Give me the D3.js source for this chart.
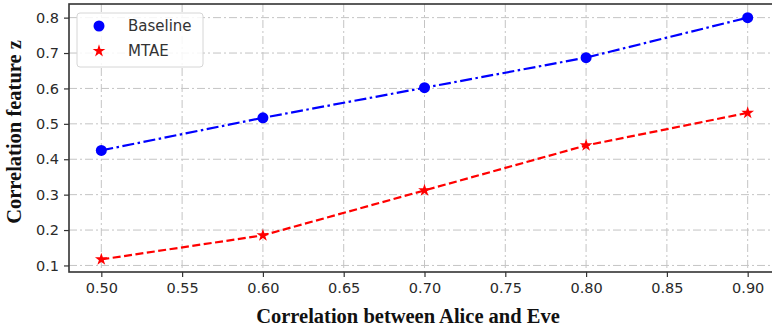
<!DOCTYPE html>
<head>
  <meta charset="utf-8">
  <script src="https://d3js.org/d3.v7.min.js"></script>
  <style>
    body { margin:0; background:#fff; }
    .tick text { font-family: 'DejaVu Sans', sans-serif; font-size: 14.5px; fill: #2a2a2a; }
    .axis-label { font-family: 'Liberation Serif', 'Times New Roman', serif; font-weight: 700; font-size: 20.5px; fill: #111; }
    .grid-line { stroke: #c4c4c4; stroke-width: 1; stroke-dasharray: 8,3,2,3; }
    .legend text { font-family: 'DejaVu Sans', sans-serif; font-size: 15px; fill: #333; }
  </style>
</head>
<body>
<script>
  // data
  var xValues = [0.50, 0.60, 0.70, 0.80, 0.90];
  var baseline = [0.425, 0.517, 0.602, 0.687, 0.800];
  var mtae = [0.117, 0.185, 0.312, 0.439, 0.531];
  var xTicks = [0.50, 0.55, 0.60, 0.65, 0.70, 0.75, 0.80, 0.85, 0.90];
  var yTicks = [0.1, 0.2, 0.3, 0.4, 0.5, 0.6, 0.7, 0.8];
  var seriesNames = ["Baseline", "MTAE"];

  var W = 772, H = 331;
  var plot = {left: 69, top: 4, right: 780, bottom: 272};

  var svg = d3.select("body").append("svg")
      .attr("width", W)
      .attr("height", H);

  var x = d3.scaleLinear().domain([0.48, 0.92]).range([plot.left, plot.right]);
  var y = d3.scaleLinear().domain([0.0815, 0.8385]).range([plot.bottom, plot.top]);

  // grid
  var grid = svg.append("g");
  grid.selectAll(".gx").data(xTicks).enter().append("line")
    .attr("class", "grid-line")
    .attr("x1", d => x(d)).attr("x2", d => x(d))
    .attr("y1", plot.top).attr("y2", plot.bottom);
  grid.selectAll(".gy").data(yTicks).enter().append("line")
    .attr("class", "grid-line")
    .attr("x1", plot.left).attr("x2", plot.right)
    .attr("y1", d => y(d)).attr("y2", d => y(d));

  // axes
  var xAxis = d3.axisBottom(x).tickValues(xTicks).tickFormat(d3.format(".2f")).tickSize(5).tickPadding(6);
  var yAxis = d3.axisLeft(y).tickValues(yTicks).tickFormat(d3.format(".1f")).tickSize(5).tickPadding(5);

  var gx = svg.append("g").attr("transform", "translate(0," + plot.bottom + ")").call(xAxis);
  var gy = svg.append("g").attr("transform", "translate(" + plot.left + ",0)").call(yAxis);
  [gx, gy].forEach(g => {
    g.select(".domain").remove();
    g.selectAll(".tick line").attr("stroke", "#333").attr("stroke-width", 1.2);
  });

  // frame
  svg.append("rect")
    .attr("x", plot.left).attr("y", plot.top)
    .attr("width", plot.right - plot.left).attr("height", plot.bottom - plot.top)
    .attr("fill", "none").attr("stroke", "#333").attr("stroke-width", 1.6);

  var line = d3.line().x((d, i) => x(xValues[i])).y(d => y(d));

  // Baseline
  svg.append("path").datum(baseline)
    .attr("d", line).attr("fill", "none")
    .attr("stroke", "#0000ff").attr("stroke-width", 2.2)
    .attr("stroke-dasharray", "12,3.5,2.5,3.5");
  svg.append("g").selectAll("circle").data(baseline).enter().append("circle")
    .attr("cx", (d, i) => x(xValues[i])).attr("cy", d => y(d))
    .attr("r", 5.5).attr("fill", "#0000ff");

  // MTAE
  svg.append("path").datum(mtae)
    .attr("d", line).attr("fill", "none")
    .attr("stroke", "#ff0000").attr("stroke-width", 2.2)
    .attr("stroke-dasharray", "8,3.5");
  var star = d3.symbol().type(d3.symbolStar).size(50);
  svg.append("g").selectAll("path").data(mtae).enter().append("path")
    .attr("d", star)
    .attr("transform", (d, i) => "translate(" + x(xValues[i]) + "," + y(d) + ")")
    .attr("fill", "#ff0000");

  // legend
  var legend = svg.append("g").attr("class", "legend");
  legend.append("rect")
    .attr("x", 77).attr("y", 13).attr("width", 126).attr("height", 54)
    .attr("rx", 3).attr("fill", "#fff").attr("fill-opacity", 0.85)
    .attr("stroke", "#d6d6d6").attr("stroke-width", 1);
  legend.append("circle").attr("cx", 99).attr("cy", 26).attr("r", 5.5).attr("fill", "#0000ff");
  legend.append("path").attr("d", star).attr("transform", "translate(99,51)").attr("fill", "#ff0000");
  legend.selectAll("text").data(seriesNames).enter().append("text")
    .attr("x", 128).attr("y", (d, i) => 31 + i * 25)
    .text(d => d);

  // axis labels
  svg.append("text").attr("class", "axis-label")
    .attr("text-anchor", "middle")
    .attr("x", 408).attr("y", 323)
    .text("Correlation between Alice and Eve");
  svg.append("text").attr("class", "axis-label")
    .attr("text-anchor", "middle")
    .attr("transform", "translate(21,132) rotate(-90)")
    .text("Correlation feature z");
</script>
</body>
